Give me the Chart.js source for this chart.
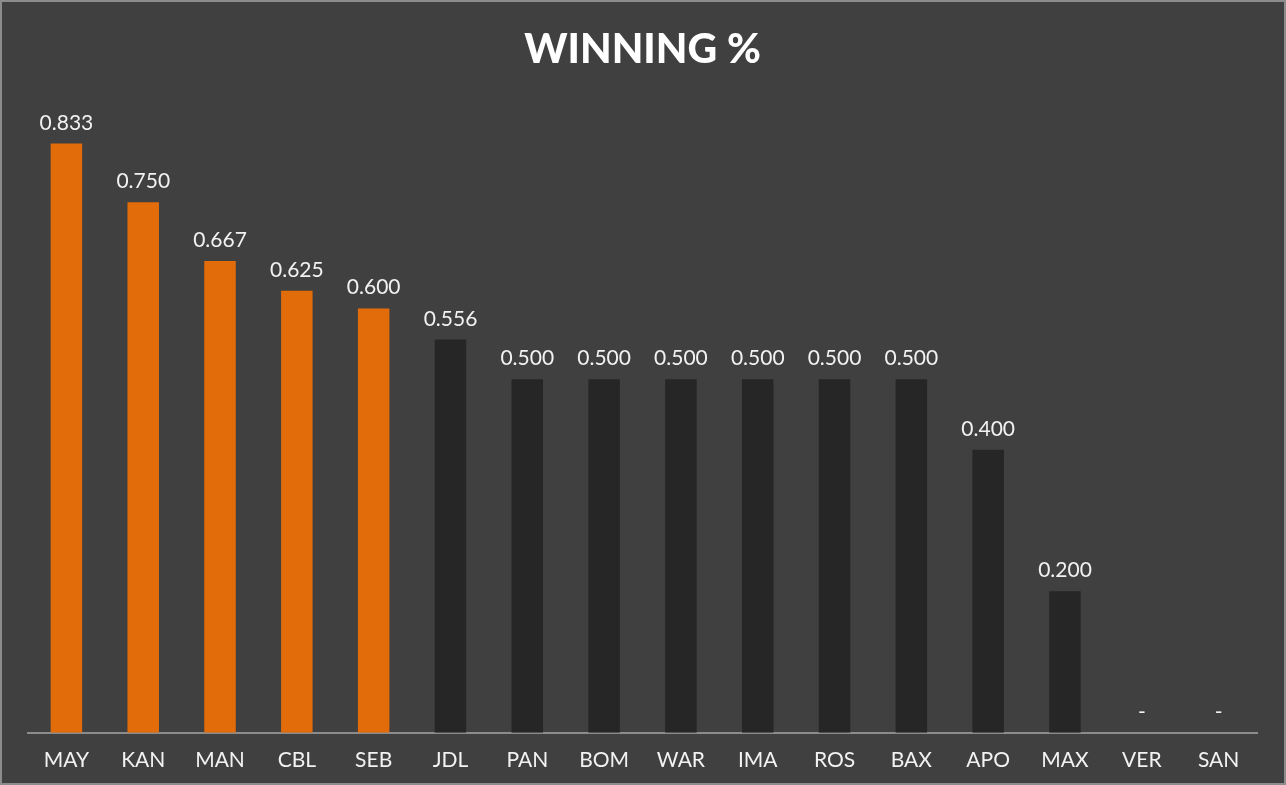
<!DOCTYPE html>
<html>
<head>
<meta charset="utf-8">
<script src="https://cdn.jsdelivr.net/npm/chart.js@4/dist/chart.umd.min.js"></script>
<style>
  html, body { margin: 0; padding: 0; background: #404040; }
  #wrap { width: 1286px; height: 785px; position: relative; }
</style>
</head>
<body>
<div id="wrap"><canvas id="_canvasc"></canvas></div>
<script>
	// ******************************************************** DATA

	var teams   = ["MAY","KAN","MAN","CBL","SEB","JDL","PAN","BOM","WAR","IMA","ROS","BAX","APO","MAX","VER","SAN"];
	var winPct  = [0.833,0.750,0.667,0.625,0.600,0.556,0.500,0.500,0.500,0.500,0.500,0.500,0.400,0.200,0,0];
	var topFive = 5;

	var orange = "#E36C0A";
	var dark   = "#262626";
	var barColors = teams.map(function (t, i) { return i < topFive ? orange : dark; });

	// ******************************************************** PLUGINS

	// value labels above each bar, "-" for zero
	var valueLabels = {
		id: 'valueLabels',
		afterDatasetsDraw: function (chart) {
			var ctx = chart.ctx;
			var meta = chart.getDatasetMeta(0);
			ctx.save();
			ctx.fillStyle = "#F2F2F2";
			ctx.font = "21px 'Lato', sans-serif";
			ctx.textAlign = "center";
			ctx.textBaseline = "alphabetic";
			meta.data.forEach(function (bar, i) {
				var v = winPct[i];
				var txt = v === 0 ? "-" : v.toFixed(3);
				ctx.fillText(txt, bar.x, bar.y - 14);
			});
			ctx.restore();
		}
	};

	// frame around the whole chart
	var frame = {
		id: 'frame',
		beforeDraw: function (chart) {
			var ctx = chart.ctx;
			ctx.save();
			ctx.fillStyle = "#404040";
			ctx.fillRect(0, 0, chart.width, chart.height);
			ctx.strokeStyle = "#8C8C8C";
			ctx.lineWidth = 2;
			ctx.strokeRect(1, 1, chart.width - 2, chart.height - 2);
			ctx.restore();
		}
	};

	// ******************************************************** CHART

	var config = {
		type: 'bar',
		data: {
			labels: teams,
			datasets: [{
				label: 'Winning %',
				data: winPct,
				backgroundColor: barColors,
				borderWidth: 0,
				categoryPercentage: 1.0,
				barPercentage: 0.41
			}]
		},
		options: {
			responsive: false,
			animation: false,
			layout: { padding: { left: 28, right: 29, top: 0, bottom: -3 } },
			plugins: {
				legend: { display: false },
				tooltip: { enabled: false },
				title: {
					display: true,
					text: 'WINNING %',
					color: '#FFFFFF',
					font: { family: 'Lato', size: 41, weight: '900' },
					padding: { top: 25, bottom: 22 }
				}
			},
			scales: {
				x: {
					grid: { display: false, drawTicks: false },
					border: { display: true, color: '#8C8C8C', width: 2 },
					ticks: {
						color: '#F2F2F2',
						font: { family: 'Lato', size: 21 },
						padding: 15,
						maxRotation: 0,
						autoSkip: false
					}
				},
				y: {
					display: false,
					min: 0,
					max: 0.9
				}
			}
		},
		plugins: [frame, valueLabels]
	};

	var _canvasc = document.getElementById("_canvasc");
	_canvasc.width  = 1286;
	_canvasc.height = 785;
	var _ctxc = _canvasc.getContext("2d");

	window.myBar = new Chart(_ctxc, config);
</script>
</body>
</html>
